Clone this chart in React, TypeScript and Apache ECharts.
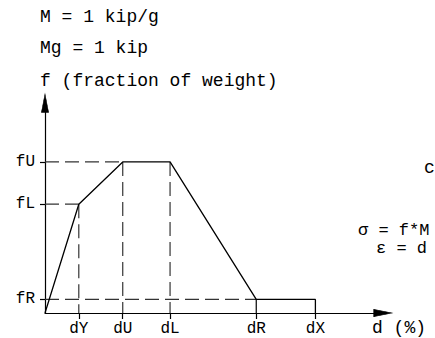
import React, { useEffect, useRef } from "react";
import * as echarts from "echarts";

// Displacement ticks (d, %) and force ticks (f, fraction of weight)
const dNames = ["dY", "dU", "dL", "dR", "dX"];
const dValues = [1, 2.3, 3.7, 6.25, 8];
const fNames = ["fR", "fL", "fU"];
const fValues = [0.09, 0.72, 1];

// Backbone curve vertices: origin -> yield -> ultimate -> loss -> residual -> end -> drop
const curveD = [0, 1, 2.3, 3.7, 6.25, 8, 8];
const curveF = [0, 0.72, 1, 1, 0.09, 0.09, 0];

const dMax = 10;
const fMax = 1.39;

const FONT = "Liberation Mono";
const INK = "#000";

const dAt = (n: string) => dValues[dNames.indexOf(n)];
const fAt = (n: string) => fValues[fNames.indexOf(n)];

const nameFor = (v: number, vals: number[], names: string[]) => {
  let best = 0;
  vals.forEach((x, i) => {
    if (Math.abs(x - v) < Math.abs(vals[best] - v)) best = i;
  });
  return names[best];
};

const seg = (pts: number[][], dashed: boolean) => ({
  type: "line",
  data: pts,
  symbol: "none",
  silent: true,
  z: dashed ? 2 : 3,
  lineStyle: {
    color: dashed ? "#333" : INK,
    width: 1.2,
    type: dashed ? [14, 6] : "solid",
  },
});

// slender filled arrowhead sitting on the far end of an axis
const arrowHead = (pt: number[], rotate: number) => ({
  type: "scatter",
  data: [pt],
  symbol: "triangle",
  symbolSize: [7, 18],
  symbolRotate: rotate,
  silent: true,
  clip: false,
  z: 5,
  itemStyle: { color: INK, borderColor: INK, borderWidth: 0.8, opacity: 1 },
});

export default function App() {
  const ref = useRef<HTMLDivElement>(null);

  useEffect(() => {
    const chart = echarts.init(ref.current!, null, { renderer: "svg" });

    const guides = [
      // horizontal guides from the force axis
      seg([[0, fAt("fU")], [dAt("dU"), fAt("fU")]], true),
      seg([[0, fAt("fL")], [dAt("dY"), fAt("fL")]], true),
      seg([[0, fAt("fR")], [dAt("dR"), fAt("fR")]], true),
      // vertical guides down to the displacement axis
      seg([[dAt("dY"), fAt("fL")], [dAt("dY"), 0]], true),
      seg([[dAt("dU"), fAt("fU")], [dAt("dU"), 0]], true),
      seg([[dAt("dL"), fAt("fU")], [dAt("dL"), 0]], true),
      seg([[dAt("dR"), fAt("fR")], [dAt("dR"), 0]], false),
    ];

    const textStyle = (size: number, extra: any) => ({
      fill: INK,
      font: `${size}px '${FONT}'`,
      textVerticalAlign: "middle",
      ...extra,
    });

    const axisLine = {
      show: true,
      lineStyle: { color: INK, width: 1.2 },
    };

    chart.setOption({
      animation: false,
      backgroundColor: "#fff",
      grid: {
        left: 45,
        top: 103,
        right: 52,
        bottom: 25,
        containLabel: false,
        outerBoundsMode: "none",
      },
      xAxis: {
        type: "value",
        min: 0,
        max: dMax,
        splitLine: { show: false },
        axisLine,
        axisTick: {
          show: true,
          customValues: dValues,
          length: 6,
          lineStyle: { color: INK, width: 1.2 },
        },
        axisLabel: {
          show: true,
          customValues: dValues,
          margin: 8,
          color: INK,
          fontFamily: FONT,
          fontSize: 16,
          formatter: (v: number) => nameFor(v, dValues, dNames),
        },
      },
      yAxis: {
        type: "value",
        min: 0,
        max: fMax,
        splitLine: { show: false },
        axisLine,
        axisTick: {
          show: true,
          customValues: fValues,
          length: 5,
          lineStyle: { color: INK, width: 1.2 },
        },
        axisLabel: {
          show: true,
          customValues: fValues,
          margin: 10,
          color: INK,
          fontFamily: FONT,
          fontSize: 16,
          formatter: (v: number) => nameFor(v, fValues, fNames),
        },
      },
      graphic: [
        { type: "text", x: 40, y: 17, style: textStyle(18, { text: "M = 1 kip/g" }) },
        { type: "text", x: 40, y: 48, style: textStyle(18, { text: "Mg = 1 kip" }) },
        { type: "text", x: 40, y: 81, style: textStyle(18, { text: "f (fraction of weight)" }) },
        { type: "text", x: 372, y: 328, style: textStyle(18, { text: "d (%)" }) },
        { type: "text", x: 424, y: 168, style: textStyle(18, { text: "c" }) },
        { type: "text", x: 358, y: 230, style: textStyle(17, { text: "σ = f*M" }) },
        { type: "text", x: 376, y: 248, style: textStyle(17, { text: "ε = d" }) },
      ],
      series: [
        ...guides,
        {
          type: "line",
          data: curveD.map((d, i) => [d, curveF[i]]),
          symbol: "none",
          silent: true,
          z: 4,
          lineStyle: { color: INK, width: 1.3 },
        },
        arrowHead([dMax, 0], -90),
        arrowHead([0, fMax], 0),
      ],
    });

    return () => chart.dispose();
  }, []);

  return (
    <div
      ref={ref}
      style={{
        position: "fixed",
        left: 0,
        top: 0,
        width: 435,
        height: 338,
        overflow: "hidden",
        background: "#fff",
      }}
    />
  );
}
